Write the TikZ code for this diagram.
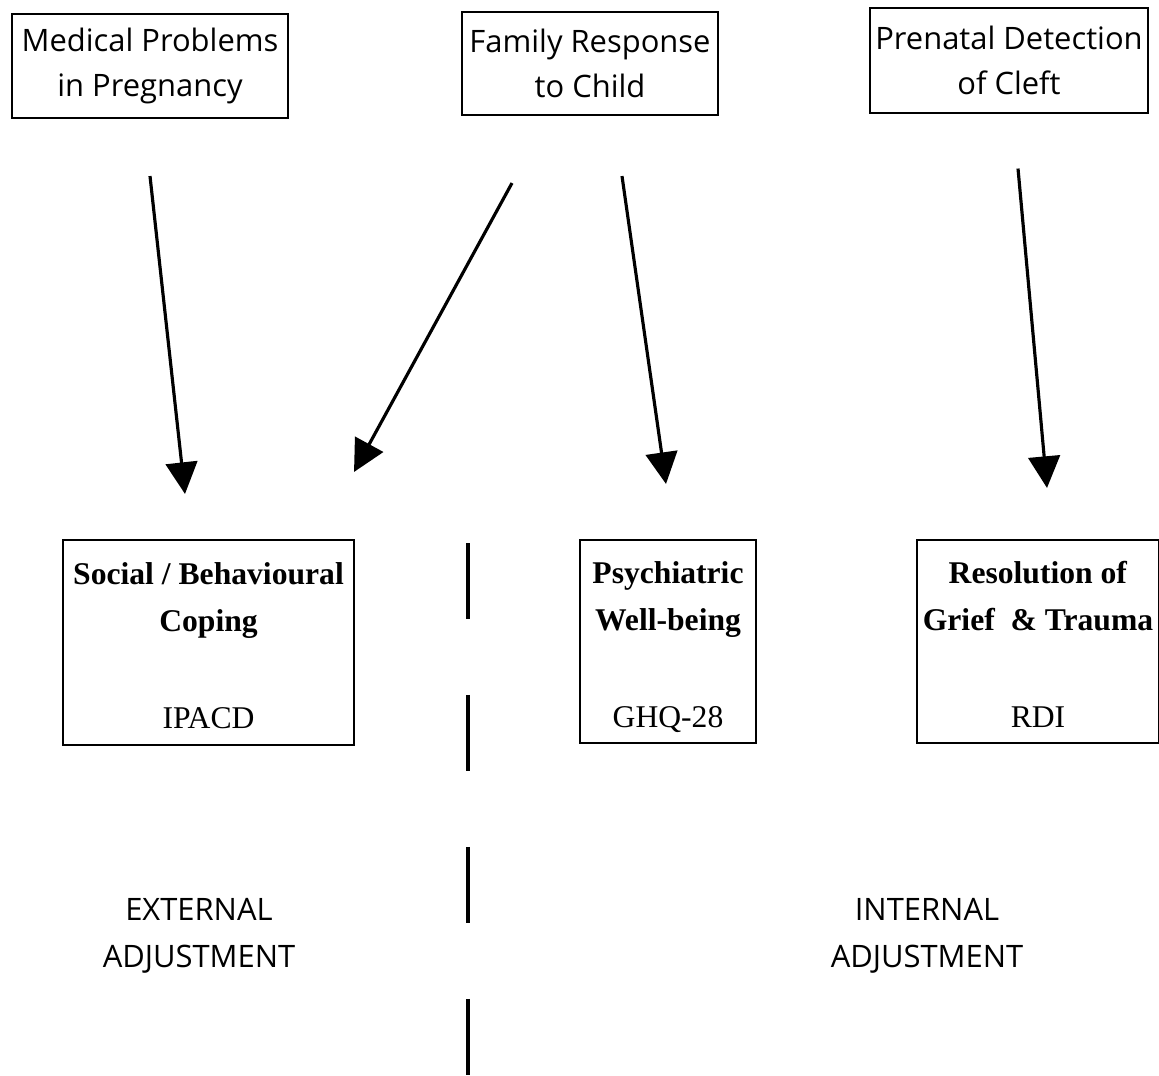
\documentclass[tikz,border=0pt]{standalone}
\usepackage{fontspec}
\setmainfont{Liberation Serif}
\newfontfamily\boxfont{Open Sans}
\usetikzlibrary{arrows.meta}
\usetikzlibrary{calc}

\newcommand{\firstline}{\rule{0pt}{24pt}}

\tikzset{
  topbox/.style={draw, rectangle, line width=1.2pt, align=center, inner sep=0pt,
    font=\boxfont\fontsize{17.6}{25.6}\selectfont},
  measbox/.style={draw, rectangle, line width=1.2pt, align=center, inner sep=0pt,
    font=\fontsize{18}{26.3}\selectfont},
  arr/.style={-{Triangle[length=18pt, width=18pt]}, line width=1.8pt},
  divider/.style={line width=2.6pt, dash pattern=on 43.5pt off 43pt},
  adjlabel/.style={align=center, font=\boxfont\fontsize{17.6}{26.7}\selectfont}
}

\begin{document}
\begin{tikzpicture}[x=0.02cm, y=-0.02cm]
    \useasboundingbox (0,0) rectangle (1159,1075);

    % influences
    \node[topbox, minimum width=5.52cm, minimum height=2.08cm] (medical) at (150,66) {Medical Problems\\in Pregnancy};
    \node[topbox, minimum width=5.12cm, minimum height=2.06cm] (family) at (590,63.5) {Family Response\\to Child};
    \node[topbox, minimum width=5.56cm, minimum height=2.1cm] (prenatal) at (1009,60.5) {Prenatal Detection\\of Cleft};

    % outcome measures
    \node[measbox, minimum width=5.82cm, minimum height=4.1cm] (social) at (208.5,642.5) {\firstline\textbf{Social / Behavioural}\\\textbf{Coping}\\[29pt]IPACD\strut};
    \node[measbox, minimum width=3.52cm, minimum height=4.06cm] (psych) at (668,641.5) {\firstline\textbf{Psychiatric}\\\textbf{Well-being}\\[29pt]GHQ-28\strut};
    \node[measbox, minimum width=4.84cm, minimum height=4.06cm] (grief) at (1038,641.5) {\firstline\textbf{Resolution of}\\\textbf{Grief \ \& Trauma}\\[29pt]RDI\strut};

    \draw[arr] ($(medical.south)+(0,57)$) -- ($(social.north)+(-23.5,-45)$);
    \draw[arr] ($(family.south)+(-78,67)$) -- ($(social.north east)+(-1,-67)$);
    \draw[arr] ($(family.south)+(32,60)$) -- ($(psych.north)+(-2,-55)$);
    \draw[arr] ($(prenatal.south)+(9,54.5)$) -- ($(grief.north)+(9,-51)$);

    % split between external and internal
    \coordinate (divtop) at (468,543);
    \coordinate (divbot) at (468,1075);
    \draw[divider] (divtop) -- (divbot);

    \node[adjlabel] (external) at (199,936) {EXTERNAL\\ADJUSTMENT};
    \node[adjlabel] (internal) at (927,936) {INTERNAL\\ADJUSTMENT};
  \end{tikzpicture}
\end{document}
